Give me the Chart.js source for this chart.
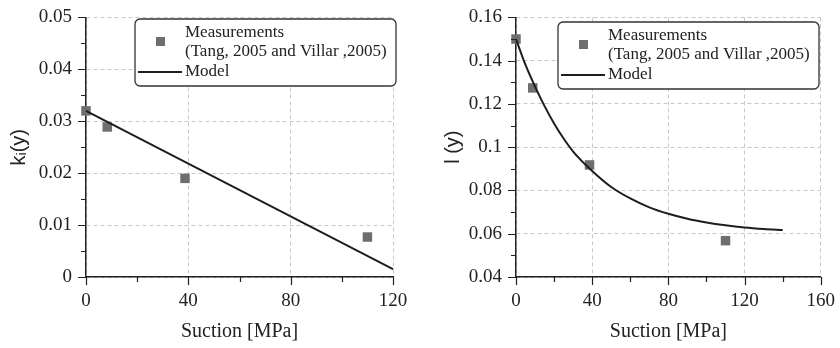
<!DOCTYPE html>
<html>
<head>
<meta charset="utf-8">
<script src="https://cdn.jsdelivr.net/npm/chart.js@4"></script>
<style>
  html, body { margin: 0; padding: 0; background: #fff; }
  #wrap { position: relative; width: 840px; height: 348px; }
  .panel { position: absolute; top: 0; width: 420px; height: 348px; }
</style>
</head>
<body>
<div id="wrap">
  <div class="panel" style="left:0"><canvas id="left" width="420" height="348"></canvas></div>
  <div class="panel" style="left:420px"><canvas id="right" width="420" height="348"></canvas></div>
</div>
<script>
// left panel: k_i(y)
const kSuction = [0, 8.3, 38.7, 110];
const kMeasured = [0.032, 0.0289, 0.019, 0.0077];
const kModelSuction = [0, 120];
const kModel = [0.032, 0.0015];
const kYTicks = ['0', '0.01', '0.02', '0.03', '0.04', '0.05'];
const kXTicks = ['0', '40', '80', '120'];

// right panel: l(y)
const lSuction = [0, 8.8, 38.6, 110];
const lMeasured = [0.150, 0.1274, 0.0918, 0.0568];
const lModelSuction = [0, 5, 10, 15, 20, 25, 30, 40, 50, 60, 70, 80, 90, 100, 110, 120, 130, 140];
const lModel = [0.150, 0.138, 0.128, 0.119, 0.111, 0.104, 0.098, 0.089, 0.0816, 0.0763, 0.0722, 0.0692, 0.0669, 0.0652, 0.0639, 0.0629, 0.0622, 0.0617];
const lYTicks = ['0.04', '0.06', '0.08', '0.1', '0.12', '0.14', '0.16'];
const lXTicks = ['0', '40', '80', '120', '160'];

const legendLines = ['Measurements', '(Tang, 2005 and Villar ,2005)', 'Model'];

const serif = '"Liberation Serif", "Times New Roman", serif';
const sans = '"Liberation Sans", "DejaVu Sans", Arial, sans-serif';
const ink = '#222';
const markerColor = '#6e6e6e';

const toPoints = (xs, ys) => xs.map((x, i) => ({ x: x, y: ys[i] }));

// outward major + minor tick marks on both axes
const tickMarks = {
    id: 'tickMarks',
    afterDraw(chart) {
        const ctx = chart.ctx;
        const x = chart.scales.x, y = chart.scales.y;
        const area = chart.chartArea;
        ctx.save();
        ctx.strokeStyle = ink;
        ctx.lineWidth = 1.2;
        ctx.beginPath();
        const mark = (scale, v, len) => {
            const p = Math.round(scale.getPixelForValue(v)) + 0.5;
            if (scale === x) { ctx.moveTo(p, area.bottom); ctx.lineTo(p, area.bottom + len); }
            else { ctx.moveTo(area.left, p); ctx.lineTo(area.left - len, p); }
        };
        [x, y].forEach(scale => {
            const vals = scale.ticks.map(t => t.value);
            vals.forEach((v, i) => {
                mark(scale, v, 8);
                if (i < vals.length - 1) mark(scale, (v + vals[i + 1]) / 2, 5);
            });
        });
        ctx.stroke();
        ctx.restore();
    }
};

// boxed legend with a two-line label for the measurements
const boxLegend = {
    id: 'boxLegend',
    afterDraw(chart, args, opts) {
        const ctx = chart.ctx;
        const ox = opts.x, oy = opts.y;
        ctx.save();
        ctx.beginPath();
        ctx.roundRect(ox, oy, 261, 67, 5);
        ctx.fillStyle = '#fff';
        ctx.fill();
        ctx.lineWidth = 1.3;
        ctx.strokeStyle = '#333';
        ctx.stroke();

        ctx.fillStyle = markerColor;
        ctx.fillRect(ox + 21, oy + 18, 9, 9);

        ctx.beginPath();
        ctx.moveTo(ox + 3, oy + 53);
        ctx.lineTo(ox + 47, oy + 53);
        ctx.lineWidth = 2;
        ctx.strokeStyle = '#1e1e1e';
        ctx.stroke();

        ctx.fillStyle = ink;
        ctx.font = '17px ' + serif;
        ctx.textBaseline = 'middle';
        ctx.fillText(legendLines[0], ox + 50, oy + 14);
        ctx.fillText(legendLines[1], ox + 50, oy + 33);
        ctx.fillText(legendLines[2], ox + 50, oy + 53);
        ctx.restore();
    }
};

const buildChart = (canvas, cfg) => {
    return new Chart(canvas.getContext('2d'), {
        type: 'scatter',
        data: {
            datasets: [
                {
                    label: 'Model',
                    data: toPoints(cfg.modelX, cfg.modelY),
                    showLine: true,
                    borderColor: '#1e1e1e',
                    borderWidth: 2,
                    pointRadius: 0,
                    clip: false,
                    cubicInterpolationMode: 'monotone'
                },
                {
                    label: 'Measurements',
                    data: toPoints(cfg.measX, cfg.measY),
                    pointStyle: 'rect',
                    pointRadius: 6.7,
                    backgroundColor: markerColor,
                    borderColor: markerColor,
                    borderWidth: 0,
                    clip: false
                }
            ]
        },
        options: {
            responsive: false,
            animation: false,
            events: [],
            layout: { padding: { left: 0, top: 14, right: cfg.padRight, bottom: 0 } },
            plugins: {
                legend: { display: false },
                tooltip: { enabled: false },
                boxLegend: { x: cfg.legendX, y: cfg.legendY }
            },
            scales: {
                x: {
                    type: 'linear',
                    min: cfg.xMin, max: cfg.xMax,
                    afterFit: s => { s.height = 71; },
                    grid: { color: '#c8c8c8', lineWidth: 1, tickLength: 8, tickColor: 'transparent' },
                    border: { display: true, color: ink, width: 1.5, dash: [4, 3] },
                    ticks: {
                        stepSize: 40, padding: 5, maxRotation: 0, autoSkip: false,
                        color: ink, font: { family: serif, size: 19 },
                        callback: (v, i) => cfg.xTicks[i]
                    },
                    title: {
                        display: true, text: 'Suction [MPa]', color: ink,
                        font: { family: serif, size: 20 }, padding: { top: 0, bottom: 4 }
                    }
                },
                y: {
                    type: 'linear',
                    min: cfg.yMin, max: cfg.yMax,
                    afterFit: s => { s.width = cfg.yWidth; },
                    grid: { color: '#c8c8c8', lineWidth: 1, tickLength: 8, tickColor: 'transparent' },
                    border: { display: true, color: ink, width: 1.5, dash: [4, 3] },
                    ticks: {
                        stepSize: cfg.yStep, padding: 6, autoSkip: false,
                        color: ink, font: { family: serif, size: 19 },
                        callback: (v, i) => cfg.yTicks[i]
                    },
                    title: {
                        display: true, text: cfg.yTitle, color: ink,
                        font: { family: sans, size: 20 }, padding: { top: cfg.yTitlePad, bottom: 0 }
                    }
                }
            }
        },
        plugins: [tickMarks, boxLegend]
    });
};

buildChart(document.getElementById('left'), {
    measX: kSuction, measY: kMeasured, modelX: kModelSuction, modelY: kModel,
    xMin: 0, xMax: 120, yMin: 0, yMax: 0.05, yStep: 0.01,
    xTicks: kXTicks, yTicks: kYTicks, yTitle: 'kᵢ(y)',
    yWidth: 86, padRight: 27, yTitlePad: 7, legendX: 135, legendY: 19
});

buildChart(document.getElementById('right'), {
    measX: lSuction, measY: lMeasured, modelX: lModelSuction, modelY: lModel,
    xMin: 0, xMax: 160, yMin: 0.04, yMax: 0.16, yStep: 0.02,
    xTicks: lXTicks, yTicks: lYTicks, yTitle: 'l (y)',
    yWidth: 96, padRight: 15, yTitlePad: 21, legendX: 138, legendY: 22
});
</script>
</body>
</html>
